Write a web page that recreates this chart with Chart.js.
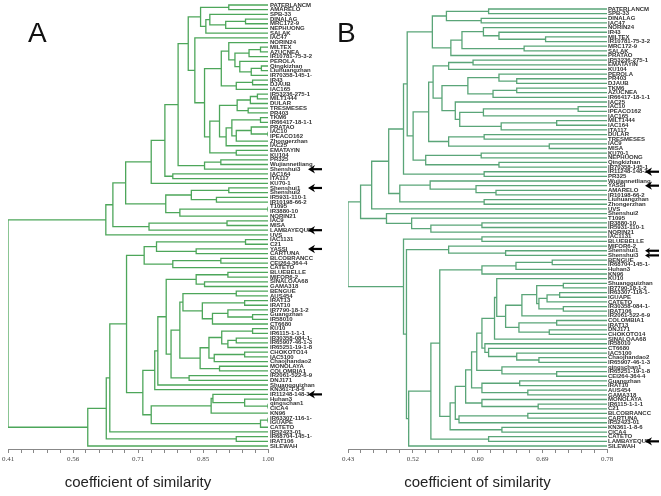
<!DOCTYPE html>
<html>
<head>
<meta charset="utf-8">
<script src="https://cdn.jsdelivr.net/npm/chart.js@4/dist/chart.umd.min.js"></script>
<style>
  html, body { margin: 0; padding: 0; background: #fff; }
  #wrap { position: relative; width: 661px; height: 496px; overflow: hidden; }
  canvas { position: absolute; top: 0; }
  #chartA { left: 0; }
  #chartB { left: 330px; }
</style>
</head>
<body>
<div id="wrap">
  <canvas id="chartA" width="330" height="496"></canvas>
  <canvas id="chartB" width="331" height="496"></canvas>
</div>
<script>
// ---------- panel A ----------
const leavesA = [
  "PATERLANCM", "AMARELO", "SPB-33", "DINALAG", "MRC172-9", "NEPHUONG", "SALAK", "IAC47",
  "NORIN24", "MILTEX", "AZUCNEA", "IR10781-75-3-2", "PEROLA", "Qingkizhan", "Liuhuangzhan",
  "IR70358-145-1-", "IR43", "DJAUB", "IAC165", "IR53236-275-1", "MILT1444", "DULAR",
  "TRESMESES", "PR403", "TKM6", "IR66417-18-1-1", "PRATAO", "IAC10", "IPEACO162",
  "Zhongerzhan", "IAC25", "EMATAYIN", "KU104", "PR325", "Wujiannetliang", "Shenshui3",
  "IAC164", "ITA117", "KU70-1", "Shenshui1", "Shenshui2", "IR5931-110-1", "IR10198-66-2",
  "T1095", "IR3880-10", "NORIN21", "IAC9", "MISA", "LAMBAYEQUE", "UVS", "IAC1131", "C21",
  "YASSI", "CARTUNA", "BLCOBRANCC", "CEI264-364-4", "CATETO", "BLUEBELLE", "MIFOR6-2",
  "SINALOAA68", "GAMA318", "BENGUE", "AUS454", "IRAT13", "IRAT10", "IR7790-18-1-2",
  "Guangzhan", "IR58010", "CT6680", "KU10", "IR6115-1-1-1", "IR30358-084-1-",
  "IR65907-46-1-3", "IR65251-19-1-8", "CHOKOTO14", "IAC5100", "Chaojhandao2", "MONOLAYA",
  "COLOMBIA1", "IR2061-522-6-9", "DNJ171", "Shuangguizhan", "KN361-1-8-6", "IR11248-148-3",
  "Huhan3", "qingschan1", "CICA4", "KN96", "IR63307-116-1-", "IGUAPE", "CATETO",
  "IR52423-01", "IR68704-145-1-", "IRAT106", "SILEWAH"
];
const ticksA = ["0.41", "0.56", "0.71", "0.85", "1.00"];
const arrowsA = [35, 39, 48, 52, 83];

// clusters: [similarity, left, right], plain numbers are leaf indices
const a_g1 = [0.847, [0.911, 0, 1], [0.859, [0.868, 2, [0.904, [0.949, 3, 4], 5]], 6]];
const a_up = [0.894,
  [0.911, 8, [0.925, [0.957, [0.983, 9, 10], 11], [0.936, 12, [0.962, [0.985, 13, 14], 15]]]],
  [0.928, [0.965, 16, 17], 18]];
const a_low = [0.868,
  [0.89,
    [0.93, [0.96, [0.976, 19, 20], 21], [0.955, 22, 23]],
    [0.905, [0.918, [0.983, 24, 25], [0.928, [0.962, 26, [1.0, 27, 28]], 29]], 30]],
  [0.928, 31, 32]];
const a_n280 = [0.819, a_g1, [0.834, 7, [0.856, a_up, a_low]]];
const a_n250 = [0.796, a_n280, [0.856, [0.893, 33, 34], 35]];
const a_n170 = [0.735, [0.766, a_n250, [0.784, 36, 37]], 38];
const a_shen = [0.768, [0.826, [0.911, 39, 40], [0.883, 41, 42]], [0.80, [1.0, 43, 44], 45]];
const a_topHalf = [0.632, [0.648, [0.677, a_n170, a_shen], [0.730, [0.907, 46, 47], 48]], 49];

const a_c6 = [0.719, [0.747, [0.949, 50, 51], [0.837, 52, 53]], [0.784, [0.893, 54, 55], 56]];
const a_b3 = [0.837, [0.909, 57, 58], [0.856, 59, 60]];
const a_B1 = [0.807, [0.928, 61, 62], [0.851, [0.947, 63, 64], [0.874, [0.909, 65, [0.965, 66, 67]], 68]]];
const a_k6 = [0.846,
  [0.866, [0.895, [0.965, 69, 70], [0.909, [0.928, 71, 72], 73]], [0.878, [0.947, 74, 75], 76]],
  [0.89, 77, 78]];
const a_B6 = [0.743, [0.750, [0.769, a_b3, [0.780, [0.800, a_B1, a_k6], [0.821, 79, 80]]], 81], 82];
const a_H5 = [0.735, [0.871, [0.875, 83, [0.947, 84, [1.0, 85, 86]]], 87], [0.983, [1.0, 88, 89], 90]];
const a_botHalf = [0.591, [0.633, [0.641, [0.679, a_c6, [0.716, a_B6, a_H5]], 91], [0.928, 92, 93]], 94];
const treeA = [0.41, a_topHalf, a_botHalf];

// ---------- panel B ----------
const leavesB = [
  "PATERLANCM", "SPB-33", "DINALAG", "IAC47", "NORIN24", "IR43", "MILTEX", "IR10781-75-3-2",
  "MRC172-9", "SALAK", "PRATAO", "IR53236-275-1", "EMATAYIN", "KU104", "PEROLA", "PR403",
  "DJAUB", "TKM6", "AZUCNEA", "IR66417-18-1-1", "IAC25", "IAC10", "IPEACO162", "IAC165",
  "MILT1444", "IAC164", "ITA117", "DULAR", "TRESMESES", "IAC9", "MISA", "KU70-1", "NEPHUONG",
  "Qingkizhan", "IR70358-145-1", "IR11248-148-3", "PR325", "Wujiannetliang", "YASSI",
  "AMARELO", "IR10198-66-2", "Liuhuangzhan", "Zhongerzhan", "UVS", "Shenshui2", "T1095",
  "IR3880-10", "IR5931-110-1", "NORIN21", "IAC1131", "BLUEBELLE", "MIFOR6-2", "Shenshui1",
  "Shenshui3", "BENGUE", "IR68704-145-1-", "Huhan3", "KN96", "KU10", "Shuangguizhan",
  "IR7790-18-1-2", "IR63307-116-1-", "IGUAPE", "CATETO", "IR30358-084-1-", "IRAT106",
  "IR2061-522-6-9", "COLOMBIA1", "IRAT13", "DNJ171", "CHOKOTO14", "SINALOAA68", "IR58010",
  "CT6680", "IAC5100", "Chaojhandao2", "IR65907-46-1-3", "qingschan1", "IR65251-19-1-8",
  "CEI264-364-4", "Guangzhan", "IRAT10", "AUS454", "GAMA318", "MONOLAYA", "IR6115-1-1-1",
  "C21", "BLCOBRANCC", "CARTUNA", "IR52423-01", "KN361-1-8-6", "CICA4", "CATETO",
  "LAMBAYEQUE", "SILEWAH"
];
const ticksB = ["0.43", "0.52", "0.60", "0.69", "0.78"];
const arrowsB = [35, 38, 52, 53, 93];

const b_T0 = [0.544, [0.563, [0.620, 0, 1], [0.610, 2, 3]],
  [0.569, [0.584, [0.613, 4, [0.634, 5, [0.697, 6, 7]]], [0.668, 8, 9]], 10]];
const b_M1 = [0.545, [0.566, [0.599, 11, 12], 13],
  [0.557,
    [0.592, [0.634, 14, [0.658, 15, 16]], [0.626, [0.658, 17, 18], 19]],
    [0.575, 20, [0.581, [0.613, [0.741, 21, 22], 23], [0.637, [0.712, 24, 25], 26]]]]];
const b_M3 = [0.518, [0.539, b_M1, [0.566, [0.614, 27, 28], [0.702, 29, 30]]],
  [0.535, [0.610, 31, 32], [0.634, 33, 34]]];
const b_M5 = [0.505, [0.510, b_T0, b_M3], [0.614, 35, 36]];
const b_y4 = [0.500, [0.541, 37, [0.603, 38, [0.630, 39, 40]]], [0.614, 41, 42]];
const b_sh = [0.482, 44, [0.516, 45, [0.542, [0.611, 46, 47], 48]]];
const b_topHalf = [0.447, [0.462, [0.485, b_M5, b_y4], 43], b_sh];

const b_be = [0.611, [0.657, [0.706, 54, 55], 56], 57];
const b_e1 = [0.643,
  [0.665, [0.685, [0.721, 59, 60], [0.688, [0.699, [0.716, 61, 62], 63], [0.721, 64, 65]]], 66],
  [0.661, [0.712, 67, 68], [0.702, 69, 70]]];
const b_f3 = [0.611, [0.628, [0.631, 58, b_e1], 71], [0.615, 72, [0.620, 73, [0.658, 74, [0.688, 75, 76]]]]];
const b_f5 = [0.597, [0.604, b_f3, [0.638, 77, [0.712, 78, 79]]], [0.611, [0.662, 80, 81], [0.673, 82, 83]]];
const b_L = [0.568, [0.575, [0.589, b_f5, [0.611, 84, [0.687, 85, 86]]], [0.580, [0.673, 87, 88], 89]],
  [0.638, 90, 91]];
const b_R = [0.512, [0.542, [0.554, b_be, b_L], [0.620, 92, 93]], 94];
const b_botHalf = [0.505, [0.611, 49, 50], [0.509, [0.566, 51, [0.643, 52, 53]], b_R]];
const treeB = [0.43, b_topHalf, b_botHalf];

// ---------- helpers ----------
const FONT = "'Liberation Sans', Arial, sans-serif";

function buildLines(tree, leafX) {
  const pts = [];
  function walk(node) {
    if (typeof node === "number") return { x: leafX, y: node };
    const h = node[0];
    const a = walk(node[1]);
    const b = walk(node[2]);
    pts.push({ x: a.x, y: a.y }, { x: h, y: a.y }, { x: h, y: b.y }, { x: b.x, y: b.y });
    pts.push({ x: NaN, y: NaN });
    return { x: h, y: (a.y + b.y) / 2 };
  }
  walk(tree);
  return pts;
}

function axisTicks(min, max, labels) {
  const n = (labels.length - 1) * 5;
  const step = (max - min) / n;
  const out = [];
  for (let i = 0; i <= n; i++) {
    out.push({ value: min + i * step, label: i % 5 === 0 ? labels[i / 5] : "" });
  }
  return out;
}

function drawArrow(ctx, x0, x1, y, head) {
  ctx.beginPath();
  ctx.moveTo(x1, y);
  ctx.lineTo(x0 + 3, y);
  ctx.stroke();
  ctx.beginPath();
  ctx.moveTo(x0, y);
  ctx.lineTo(x0 + head, y - head * 0.6);
  ctx.lineTo(x0 + head * 0.7, y);
  ctx.lineTo(x0 + head, y + head * 0.6);
  ctx.closePath();
  ctx.fill();
}

function makeDendrogram(id, opts) {
  const canvas = document.getElementById(id);
  const ticks = axisTicks(opts.xMin, opts.xMax, opts.tickLabels);

  const decorations = {
    id: "decor" + id,
    afterDraw(chart) {
      const ctx = chart.ctx;
      const yScale = chart.scales.y;
      ctx.save();
      ctx.fillStyle = "#111";
      ctx.font = "28px " + FONT;
      ctx.textBaseline = "alphabetic";
      ctx.fillText(opts.letter, opts.letterX, 42);

      ctx.strokeStyle = "#000";
      ctx.fillStyle = "#000";
      ctx.lineWidth = 2.2;
      opts.arrows.forEach((leaf) => {
        const y = yScale.getPixelForValue(leaf);
        const paired = opts.arrows.includes(leaf + 1) || opts.arrows.includes(leaf - 1);
        const head = paired ? 5 : 7;
        drawArrow(ctx, opts.arrowX, opts.arrowX + 14, y, head);
      });
      ctx.restore();
    },
  };

  return new Chart(canvas, {
    type: "scatter",
    data: {
      datasets: [
        {
          data: buildLines(opts.tree, opts.xMax),
          showLine: true,
          spanGaps: false,
          borderColor: opts.color,
          borderWidth: 1.3,
          pointRadius: 0,
          pointHoverRadius: 0,
          tension: 0,
        },
      ],
    },
    options: {
      responsive: false,
      animation: false,
      events: [],
      layout: { padding: { left: opts.padLeft, top: 0, right: 0, bottom: 0 } },
      plugins: { legend: { display: false }, tooltip: { enabled: false } },
      scales: {
        x: {
          type: "linear",
          position: "bottom",
          min: opts.xMin,
          max: opts.xMax,
          afterBuildTicks: (scale) => {
            scale.ticks = ticks.map((t) => ({ value: t.value }));
          },
          afterFit: (scale) => {
            scale.height = 47;
            scale.paddingLeft = 0;
            scale.paddingRight = 0;
          },
          ticks: {
            autoSkip: false,
            maxRotation: 0,
            padding: 2,
            color: "#444",
            font: { family: "'Liberation Serif', 'Times New Roman', serif", size: 7 },
            callback: (value, index) => (ticks[index] ? ticks[index].label : ""),
          },
          grid: { display: true, drawOnChartArea: false, drawTicks: true, tickLength: 4, color: "#888" },
          border: { display: true, color: "#888", width: 1 },
          title: {
            display: true,
            text: "coefficient of similarity",
            color: "#222",
            font: { family: FONT, size: 15 },
            padding: { top: 0, bottom: 4 },
          },
        },
        y: {
          type: "linear",
          position: "right",
          reverse: true,
          min: opts.yMin,
          max: opts.yMax,
          afterBuildTicks: (scale) => {
            scale.ticks = opts.leaves.map((name, i) => ({ value: i }));
          },
          afterFit: (scale) => {
            scale.width = opts.labelWidth;
            scale.paddingTop = 0;
            scale.paddingBottom = 0;
          },
          ticks: {
            autoSkip: false,
            padding: opts.labelPad,
            color: "#333",
            font: { family: FONT, size: 6, weight: "bold" },
            callback: (value) => opts.leaves[value] || "",
          },
          grid: { display: false, drawTicks: false },
          border: { display: false },
        },
      },
    },
    plugins: [decorations],
  });
}

makeDendrogram("chartA", {
  tree: treeA,
  leaves: leavesA,
  tickLabels: ticksA,
  arrows: arrowsA,
  xMin: 0.41,
  xMax: 1.0,
  yMin: -1.066,
  yMax: 94.64,
  padLeft: 8,
  labelWidth: 62,
  labelPad: 2,
  color: "#4da65a",
  letter: "A",
  letterX: 28,
  arrowX: 308,
});

makeDendrogram("chartB", {
  tree: treeB,
  leaves: leavesB,
  tickLabels: ticksB,
  arrows: arrowsB,
  xMin: 0.43,
  xMax: 0.78,
  yMin: -1.94,
  yMax: 94.645,
  padLeft: 18,
  labelWidth: 54,
  labelPad: 1,
  color: "#5aa578",
  letter: "B",
  letterX: 7,
  arrowX: 315,
});
</script>
</body>
</html>
